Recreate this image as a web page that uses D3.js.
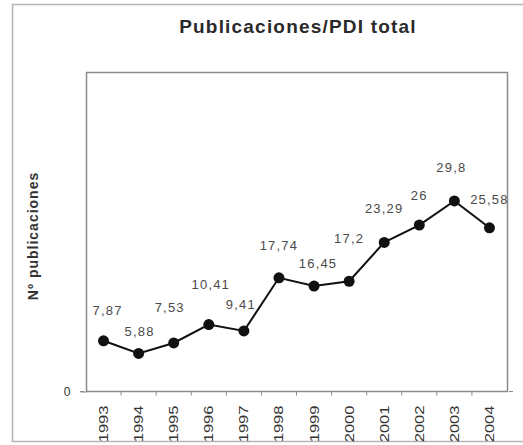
<!DOCTYPE html>
<html lang="es">
<head>
<meta charset="UTF-8">
<title>Publicaciones/PDI total</title>
<style>
    body { margin: 0; background: #ffffff; }
    svg { display: block; }
    text { font-family: "Liberation Sans", Arial, sans-serif; }
</style>
</head>
<body>
<script src="https://cdn.jsdelivr.net/npm/d3@7"></script>
<script>
    // data
    var years = ["1993","1994","1995","1996","1997","1998","1999","2000","2001","2002","2003","2004"];
    var values = [7.87, 5.88, 7.53, 10.41, 9.41, 17.74, 16.45, 17.2, 23.29, 26, 29.8, 25.58];
    var yTicks = [0];
    // nudges of each value label relative to its point (layout only)
    var labelLift = [31, 22, 36, 41, 27, 33, 23, 43, 34, 30, 34, 29];
    var labelShift = [4, 1, -4, 2, -3, 0, 4, 0, 0, 0, -3, 0];

    var W = 523, H = 445;
    var plot = {left: 86, top: 72, right: 507, bottom: 391};

    var svg = d3.select("body").append("svg")
        .attr("width", W)
        .attr("height", H);

    // outer frame (right side runs off the picture)
    svg.append("rect")
        .attr("x", 12.5).attr("y", 4.5)
        .attr("width", 530).attr("height", 437)
        .attr("fill", "none")
        .attr("stroke", "#b5b5b5")
        .attr("stroke-width", 1.5);

    svg.append("text")
        .attr("x", 298).attr("y", 33)
        .attr("text-anchor", "middle")
        .attr("font-size", 19)
        .attr("font-weight", "bold")
        .attr("letter-spacing", 1.2)
        .attr("fill", "#2a2a2a")
        .text("Publicaciones/PDI total");

    var x = d3.scaleBand()
        .domain(years)
        .range([plot.left, plot.right]);

    var y = d3.scaleLinear()
        .domain([0, 50])
        .range([plot.bottom, plot.top]);

    // plot frame
    svg.append("rect")
        .attr("x", plot.left + 0.5).attr("y", plot.top + 0.5)
        .attr("width", plot.right - plot.left).attr("height", plot.bottom - plot.top)
        .attr("fill", "none")
        .attr("stroke", "#8a8a8a")
        .attr("stroke-width", 1.5);

    // x axis: ticks at band edges, labels in the middle
    var xAxis = svg.append("g")
        .attr("transform", "translate(0," + (plot.bottom + 0.5) + ")");
    xAxis.selectAll("line.tk")
        .data(years.slice(1))
        .enter().append("line")
        .attr("class", "tk")
        .attr("x1", d => x(d)).attr("x2", d => x(d))
        .attr("y1", 0).attr("y2", 4)
        .attr("stroke", "#8a8a8a");
    xAxis.selectAll("line.end")
        .data([plot.left - 6, plot.right + 2])
        .enter().append("line")
        .attr("class", "end")
        .attr("x1", d => d).attr("x2", d => d + 4)
        .attr("y1", 0).attr("y2", 0)
        .attr("stroke", "#8a8a8a");
    // the year labels are drawn tall and narrow, so stretch along the text
    xAxis.selectAll("text")
        .data(years)
        .enter().append("text")
        .attr("transform", d => "translate(" + (x(d) + x.bandwidth() / 2 + 4.5) + ",14) rotate(-90) scale(1.38,1)")
        .attr("text-anchor", "end")
        .attr("font-size", 12)
        .attr("fill", "#333")
        .text(d => d);

    // y axis (only zero is labelled)
    var yAxis = svg.append("g")
        .attr("transform", "translate(" + (plot.left + 0.5) + ",0.5)")
        .call(d3.axisLeft(y).tickValues(yTicks).tickSize(6).tickPadding(10));
    yAxis.select(".domain").remove();
    yAxis.selectAll("line").attr("stroke", "#8a8a8a");
    yAxis.selectAll("text")
        .attr("font-family", "Liberation Sans, Arial, sans-serif")
        .attr("font-size", 12)
        .attr("fill", "#333");

    svg.append("text")
        .attr("transform", "translate(38,236) rotate(-90)")
        .attr("text-anchor", "middle")
        .attr("font-size", 14)
        .attr("font-weight", "bold")
        .attr("letter-spacing", 1)
        .attr("fill", "#333")
        .text("Nº publicaciones");

    var cx = function(d, i) { return x(years[i]) + x.bandwidth() / 2; };

    var line = d3.line()
        .x(function(d, i) { return cx(d, i); })
        .y(function(d) { return y(d); });

    svg.append("path")
        .datum(values)
        .attr("fill", "none")
        .attr("stroke", "#111")
        .attr("stroke-width", 2)
        .attr("d", line);

    svg.selectAll(".dot")
        .data(values)
        .enter().append("circle")
        .attr("class", "dot")
        .attr("cx", cx)
        .attr("cy", d => y(d))
        .attr("r", 5.5)
        .attr("fill", "#111");

    svg.selectAll(".lbl")
        .data(values)
        .enter().append("text")
        .attr("class", "lbl")
        .attr("x", (d, i) => cx(d, i) + labelShift[i])
        .attr("y", (d, i) => y(d) - labelLift[i] + 5)
        .attr("text-anchor", "middle")
        .attr("font-size", 13)
        .attr("letter-spacing", 1.2)
        .attr("fill", "#4a4a4a")
        .text(d => String(d).replace(".", ","));
</script>
</body>
</html>
